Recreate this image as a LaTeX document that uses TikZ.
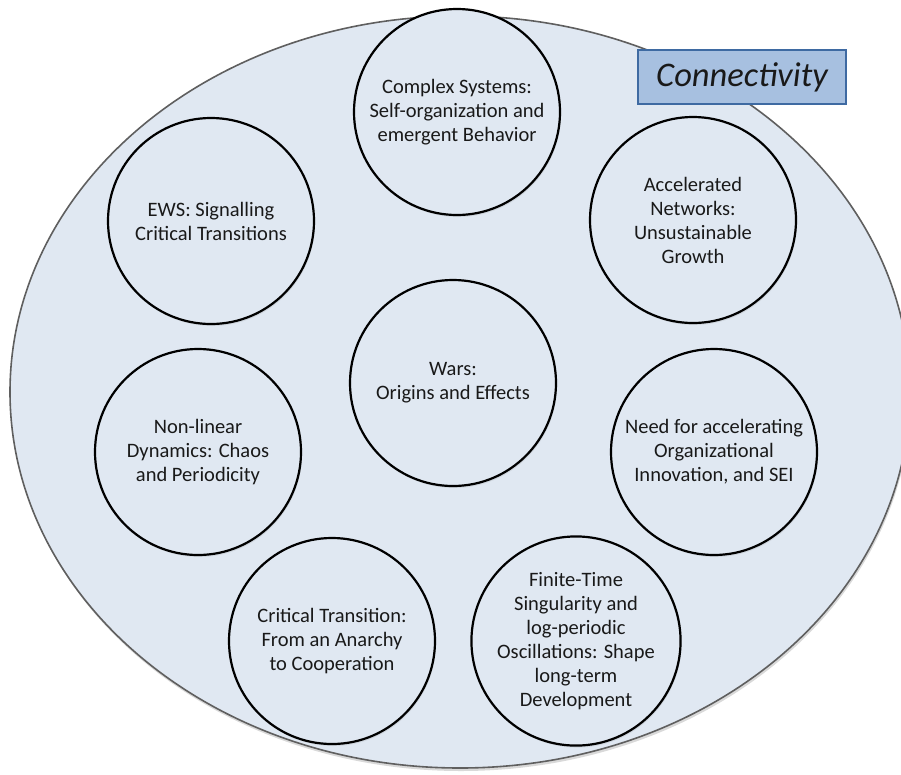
\documentclass[tikz,border=0pt]{standalone}
\usepackage{fontspec}
\setmainfont{Carlito}
\usepackage{tikz}
\usetikzlibrary{shadows}
\definecolor{bgfill}{RGB}{224,232,242}
\definecolor{bgline}{RGB}{95,95,95}
\definecolor{boxfill}{RGB}{167,192,224}
\definecolor{boxline}{RGB}{62,106,162}
\definecolor{txt}{RGB}{25,25,25}

\begin{document}
\begin{tikzpicture}[x=1pt,y=-1pt,
		topic/.style={circle,draw,line width=2.2pt,minimum size=206pt,inner sep=0pt,
			fill=bgfill,align=center,text=txt,font=\fontsize{20.5}{24}\selectfont,
			drop shadow={opacity=0.18,shadow xshift=1pt,shadow yshift=-2pt}}]
		\useasboundingbox (0,0) rectangle (901,774);
		
		\draw[fill=bgfill,draw=bgline,line width=1.6pt,
			drop shadow={opacity=0.3,shadow xshift=1pt,shadow yshift=-3pt}]
			(460,392) ellipse [x radius=450,y radius=376];
		
		\node[draw=boxline,fill=boxfill,line width=1.5pt,minimum width=208pt,minimum height=54pt,
			font=\fontsize{34.5}{40}\selectfont\itshape,text=txt] (conn) at (742,77) {Connectivity\hspace{8pt}};
		
		\node[topic] (cs) at (457,112) {Complex Systems:\\Self-organization and\\emergent Behavior};
		\node[topic] (ews) at (211,221) {EWS: Signalling\\Critical Transitions};
		\node[topic] (an) at (693,220) {Accelerated\\Networks:\\Unsustainable\\Growth};
		\node[topic] (wars) at (453,383) {Wars:\\Origins and Effects};
		\node[topic] (nld) at (198,452) {Non-linear\\Dynamics: Chaos\\and Periodicity};
		\node[topic] (oi) at (714,452) {Need for accelerating\\Organizational\\Innovation, and SEI};
		\node[topic] (ct) at (332,641) {Critical Transition:\\From an Anarchy\\to Cooperation};
		\node[topic] (fts) at (576,641) {Finite-Time\\Singularity and\\log-periodic\\Oscillations: Shape\\long-term\\Development};
	\end{tikzpicture}
\end{document}
